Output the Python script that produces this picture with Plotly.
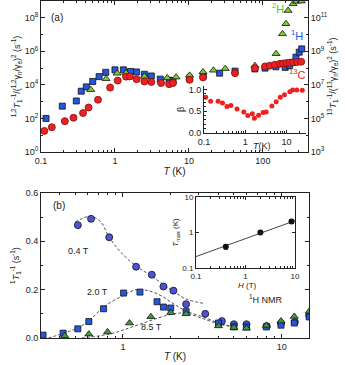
import plotly.graph_objects as go

# ---- panel (a): T1^-1 / gamma^2 vs T ----
t_1h = [0.117, 0.194, 0.30, 0.35, 0.41, 0.50, 0.61, 0.75, 1.0, 1.3, 1.62, 1.96, 2.5, 3.1, 4.1, 5.4,
        6.1, 10.2, 15.6, 26, 42, 78, 107, 150, 200, 230, 255, 280, 310, 335]
y_1h = [1.0e2, 5.4e2, 1.1e3, 4.2e3, 7.6e3, 1.6e4, 3.1e4, 5.6e4, 7.9e4, 7.9e4, 6.3e4, 5.9e4, 4.3e4, 3.4e4, 2.2e4, 1.9e4,
        1.8e4, 2.5e4, 3.5e4, 5.0e4, 6.6e4, 8.9e4, 1.0e5, 1.2e5, 1.1e5, 1.4e5, 2.2e5, 4.5e5, 8.9e5, 1.4e6]

t_2h = [0.47, 0.76, 1.07, 1.41, 2.5, 5.1, 6.7, 10.2, 15.5, 21.5, 31, 78, 151, 184, 205, 219, 256, 285, 330]
y_2h = [5.2e3, 2.3e4, 4.9e4, 5.1e4, 3.2e4, 2.6e4, 2.9e4, 3.7e4, 5.9e4, 7.4e4, 9.3e4, 1.4e5, 7.2e5, 1.1e7, 4.4e7, 2.7e8, 6.8e8, 9.5e8, 9.8e8]

t_13c = [0.111, 0.14, 0.21, 0.275, 0.37, 0.44, 0.59, 0.86, 1.09, 1.41, 1.59, 1.96, 2.5, 3.1, 4.2, 5.4,
         6.1, 10.2, 15.5, 42, 78, 107, 124, 145, 170, 187, 209, 231, 256, 290, 330]
y_13c = [1.8e1, 3.0e1, 6.9e1, 1.1e2, 2.1e2, 4.5e2, 1.3e3, 6.9e3, 1.8e4, 3.1e4, 3.2e4, 2.2e4, 1.6e4, 1.5e4, 1.3e4, 1.1e4,
         1.3e4, 2.0e4, 2.8e4, 5.0e4, 1.0e5, 1.26e5, 1.4e5, 1.6e5, 1.8e5, 1.9e5, 2.0e5, 2.1e5, 2.2e5, 2.3e5, 2.4e5]

# inset (a): stretching exponent beta
t_beta = [0.11, 0.145, 0.22, 0.28, 0.36, 0.45, 0.63, 0.92, 1.15, 1.48, 1.66, 2.1, 2.7, 3.2, 4.4, 5.6,
          7.0, 8.9, 12, 14, 17.7, 24]
beta = [0.82, 0.73, 0.73, 0.69, 0.61, 0.63, 0.55, 0.48, 0.40, 0.44, 0.34, 0.41, 0.47, 0.48, 0.62, 0.72,
        0.82, 0.88, 0.95, 0.99, 0.99, 0.98]

# ---- panel (b): 1H T1^-1 at three fields ----
t_04 = [0.52, 0.63, 0.82, 1.21, 1.52, 1.80, 2.08, 2.5, 3.3, 4.2, 5.0, 6.0, 8.05, 9.9, 12.1, 14.9]
r_04 = [0.467, 0.493, 0.417, 0.295, 0.262, 0.213, 0.196, 0.14, 0.10, 0.07, 0.057, 0.057, 0.049, 0.06, 0.066, 0.093]
t_20 = [0.314, 0.42, 0.52, 0.61, 0.755, 1.01, 1.28, 1.64, 1.80, 2.0, 2.5, 4.0, 5.0, 6.0, 8.0, 9.9, 12, 14.9]
r_20 = [0.012, 0.02, 0.038, 0.068, 0.121, 0.186, 0.19, 0.15, 0.128, 0.124, 0.109, 0.062, 0.046, 0.046, 0.046, 0.053, 0.062, 0.087]
t_85 = [0.43, 0.61, 0.80, 1.10, 1.50, 2.0, 2.5, 4.0, 5.0, 6.0, 8.0, 9.9, 12, 14.9]
r_85 = [0.009, 0.016, 0.025, 0.062, 0.088, 0.105, 0.10, 0.05, 0.043, 0.04, 0.052, 0.07, 0.089, 0.11]

# dashed fit curves
fit04_t = [0.50, 0.62, 0.72, 0.82, 0.96, 1.17, 1.49, 2.08, 2.53, 3.3]
fit04_r = [0.48, 0.503, 0.483, 0.417, 0.358, 0.305, 0.259, 0.193, 0.16, 0.142]
fit20_t = [0.34, 0.52, 0.62, 0.755, 0.99, 1.21, 1.44, 1.75, 2.1, 2.53, 3.2, 4.1, 5.0]
fit20_r = [0.0, 0.042, 0.075, 0.128, 0.174, 0.2, 0.196, 0.174, 0.14, 0.11, 0.087, 0.06, 0.046]
fit85_t = [0.55, 0.83, 1.18, 1.65, 2.12, 2.5, 3.2, 4.1, 5.0]
fit85_r = [0.0, 0.017, 0.049, 0.082, 0.101, 0.102, 0.08, 0.056, 0.046]

# inset (b): Tmax vs H
h_field = [0.4, 2.0, 8.5]
t_max = [0.40, 1.0, 2.05]
t_max_err = [0.06, 0.1, 0.25]
line_h = [0.1, 10]
line_t = [0.21, 2.15]

FONT = "Liberation Sans, Arial, sans-serif"
W, H = 345, 365


def px_x(a, b):
    return [a / W, b / W]


def px_y(top, bottom):
    return [1 - bottom / H, 1 - top / H]


def minor_log(lo, hi):
    vals = []
    for e in range(lo, hi):
        for m in range(2, 10):
            vals.append(m * 10 ** e)
    return vals


axis_common = dict(showline=True, linecolor="#222", linewidth=1, ticks="inside", ticklen=4,
                   tickcolor="#222", showgrid=False, zeroline=False, automargin=False,
                   tickfont=dict(family=FONT, size=9, color="#222"))

fig = go.Figure()

# panel (a) data
fig.add_trace(go.Scatter(x=t_1h, y=y_1h, mode="markers", xaxis="x", yaxis="y",
                         marker=dict(symbol="square", size=6, color="#2457e0", line=dict(color="#111", width=0.8))))
fig.add_trace(go.Scatter(x=t_2h, y=y_2h, mode="markers", xaxis="x", yaxis="y",
                         marker=dict(symbol="triangle-up", size=7, color="#7ccc3a", line=dict(color="#111", width=0.8))))
fig.add_trace(go.Scatter(x=t_13c, y=y_13c, mode="markers", xaxis="x", yaxis="y",
                         marker=dict(symbol="circle", size=7, color="#f02020", line=dict(color="#7a1010", width=0.8))))
# dummy trace so that the right axis is drawn
fig.add_trace(go.Scatter(x=[1], y=[1e5], mode="markers", xaxis="x", yaxis="y2",
                         marker=dict(opacity=0), hoverinfo="skip"))

# inset (a)
fig.add_trace(go.Scatter(x=t_beta, y=beta, mode="markers", xaxis="x3", yaxis="y3",
                         marker=dict(symbol="circle", size=5, color="#f02020")))

# panel (b) fits
for ft, fr in [(fit04_t, fit04_r), (fit20_t, fit20_r), (fit85_t, fit85_r)]:
    fig.add_trace(go.Scatter(x=ft, y=fr, mode="lines", xaxis="x2", yaxis="y4",
                             line=dict(color="#555", width=1, dash="3px,2px", shape="spline")))
fig.add_trace(go.Scatter(x=t_04, y=r_04, mode="markers", xaxis="x2", yaxis="y4",
                         marker=dict(symbol="circle", size=7, color="#4f52d6", line=dict(color="#111", width=0.8))))
fig.add_trace(go.Scatter(x=t_20, y=r_20, mode="markers", xaxis="x2", yaxis="y4",
                         marker=dict(symbol="square", size=6, color="#2457e0", line=dict(color="#111", width=0.8))))
fig.add_trace(go.Scatter(x=t_85, y=r_85, mode="markers", xaxis="x2", yaxis="y4",
                         marker=dict(symbol="triangle-up", size=7, color="#3f9a3a", line=dict(color="#111", width=0.8))))

# inset (b)
fig.add_trace(go.Scatter(x=line_h, y=line_t, mode="lines", xaxis="x4", yaxis="y5",
                         line=dict(color="#444", width=1)))
fig.add_trace(go.Scatter(x=h_field, y=t_max, mode="markers", xaxis="x4", yaxis="y5",
                         error_y=dict(type="data", array=t_max_err, color="#111", thickness=1, width=2),
                         marker=dict(symbol="circle", size=6, color="#111")))

sup = lambda e: "10<sup>%d</sup>" % e

fig.update_layout(
    width=W, height=H, margin=dict(l=0, r=0, t=0, b=0),
    paper_bgcolor="white", plot_bgcolor="rgba(0,0,0,0)", showlegend=False,
    font=dict(family=FONT, size=9, color="#222"),
    # panel (a)
    xaxis=dict(axis_common, type="log", domain=px_x(41, 308), anchor="y",
               range=[-1, 2.61], tickvals=[0.1, 1, 10, 100], ticktext=["0.1", "1", "10", "100"],
               mirror="ticks",
               minor=dict(ticks="inside", ticklen=2, tickcolor="#222", tickvals=minor_log(-1, 3)),
               title=dict(text="<i>T</i> (K)", font=dict(size=10), standoff=2)),
    yaxis=dict(axis_common, type="log", domain=px_y(1, 152), anchor="x", range=[0, 9],
               tickvals=[10 ** e for e in range(0, 9, 2)], ticktext=[sup(e) for e in range(0, 9, 2)],
               minor=dict(ticks="inside", ticklen=2, tickcolor="#222", tickvals=[10 ** e for e in range(1, 9, 2)]),
               title=dict(text="<sup>1,2</sup><i>T</i><sub>1</sub><sup>-1</sup>/(<sup>1,2</sup>γ<sub>n</sub>/γ<sub>e</sub>)<sup>2</sup> (s<sup>-1</sup>)",
                          font=dict(size=9), standoff=2)),
    yaxis2=dict(axis_common, type="log", overlaying="y", side="right", anchor="x", range=[3, 12],
                tickvals=[10 ** e for e in range(3, 12, 2)], ticktext=[sup(e) for e in range(3, 12, 2)],
                minor=dict(ticks="inside", ticklen=2, tickcolor="#222", tickvals=[10 ** e for e in range(4, 12, 2)]),
                title=dict(text="<sup>13</sup><i>T</i><sub>1</sub><sup>-1</sup>/(<sup>13</sup>γ<sub>n</sub>/γ<sub>e</sub>)<sup>2</sup> (s<sup>-1</sup>)",
                           font=dict(size=9), standoff=2)),
    # inset (a)
    xaxis3=dict(axis_common, type="log", domain=px_x(204, 306), anchor="y3", range=[-1, 1.47],
                tickvals=[0.1, 1, 10], ticktext=["0.1", "1", "10"], ticklen=3,
                minor=dict(ticks="inside", ticklen=2, tickcolor="#222", tickvals=minor_log(-1, 2))),
    yaxis3=dict(axis_common, domain=px_y(86, 133), anchor="x3", range=[0, 1.08],
                tickvals=[0, 0.5, 1.0], ticktext=["0.0", "0.5", "1.0"], ticklen=3,
                minor=dict(ticks="inside", ticklen=2, tickcolor="#222", dtick=0.1),
                title=dict(text="β", font=dict(size=9), standoff=2)),
    # panel (b)
    xaxis2=dict(axis_common, type="log", domain=px_x(41, 309), anchor="y4", range=[-0.516, 1.172],
                tickvals=[1, 10], ticktext=["1", "10"], mirror="ticks",
                minor=dict(ticks="inside", ticklen=2, tickcolor="#222", tickvals=minor_log(-1, 2)),
                title=dict(text="<i>T</i> (K)", font=dict(size=10), standoff=2)),
    yaxis4=dict(axis_common, domain=px_y(193, 338), anchor="x2", range=[0, 0.6],
                tickvals=[0, 0.2, 0.4, 0.6], ticktext=["0.0", "0.2", "0.4", "0.6"], mirror="ticks",
                minor=dict(ticks="inside", ticklen=2, tickcolor="#222", dtick=0.1),
                title=dict(text="<sup>1</sup><i>T</i><sub>1</sub><sup>-1</sup> (s<sup>-1</sup>)",
                           font=dict(size=9), standoff=4)),
    # inset (b)
    xaxis4=dict(axis_common, type="log", domain=px_x(196, 295), anchor="y5", range=[-1, 1],
                tickvals=[0.1, 1, 10], ticktext=["0.1", "1", "10"], ticklen=3, mirror="ticks",
                tickfont=dict(family=FONT, size=8, color="#222"),
                minor=dict(ticks="inside", ticklen=2, tickcolor="#222", tickvals=minor_log(-1, 1))),
    yaxis5=dict(axis_common, type="log", domain=px_y(197, 268), anchor="x4", range=[-1, 1],
                tickvals=[0.1, 1, 10], ticktext=["0.1", "1", "10"], ticklen=3, mirror="ticks",
                tickfont=dict(family=FONT, size=8, color="#222"),
                title=dict(text="<i>T</i><sub>max</sub> (K)", font=dict(size=8), standoff=2)),
)

annos = [
    dict(x=57, y=17, text="(a)", size=10, color="#222"),
    dict(x=278, y=8, text="<sup>2</sup>H", size=11, color="#5cbf2a"),
    dict(x=297, y=35, text="<sup>1</sup>H", size=11, color="#2457e0"),
    dict(x=297, y=74, text="<sup>13</sup>C", size=11, color="#f02020"),
    dict(x=262, y=146, text="<i>T</i>(K)", size=9, color="#222"),
    dict(x=247, y=285, text="<i>H</i> (T)", size=8, color="#222"),
    dict(x=59, y=205, text="(b)", size=10, color="#222"),
    dict(x=78, y=251, text="0.4 T", size=9, color="#222"),
    dict(x=97, y=292, text="2.0 T", size=9, color="#222"),
    dict(x=151, y=327, text="8.5 T", size=9, color="#222"),
    dict(x=266, y=299, text="<sup>1</sup>H NMR", size=9, color="#222"),
]
for a in annos:
    fig.add_annotation(x=a["x"] / W, y=1 - a["y"] / H, xref="paper", yref="paper", text=a["text"],
                       xanchor="center", yanchor="middle", showarrow=False,
                       font=dict(family=FONT, size=a["size"], color=a["color"]))

# page body has a default 8px margin; drop it so the figure sits at the window corner
fig.write_html("out.html", config={"displayModeBar": False},
               post_script="document.body.style.margin='0px';")
